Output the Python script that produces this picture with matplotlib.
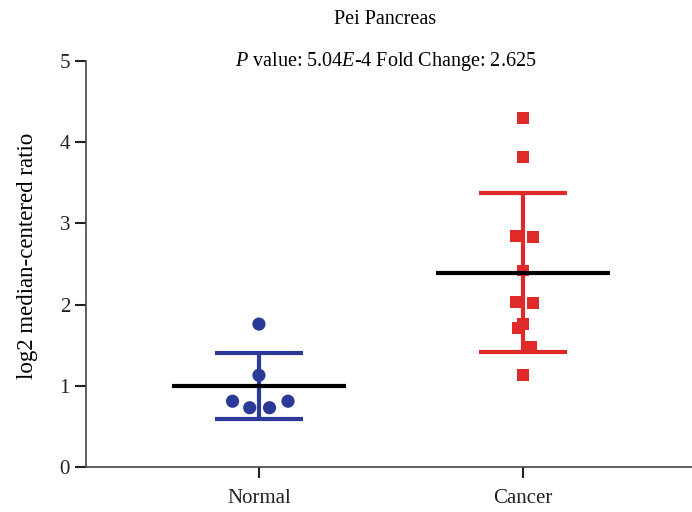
import numpy as np
import matplotlib.pyplot as plt

plt.rcParams['font.family'] = ['Liberation Serif', 'DejaVu Serif']
plt.rcParams['mathtext.fontset'] = 'custom'
plt.rcParams['mathtext.rm'] = 'Liberation Serif'
plt.rcParams['mathtext.it'] = 'Liberation Serif:italic'

groups = ["Normal", "Cancer"]
normal_vals = [1.76, 1.13, 0.81, 0.73, 0.73, 0.81]
normal_jitter = [0.0, 0.0, -0.10, -0.035, 0.04, 0.11]
cancer_vals = [4.30, 3.82, 2.84, 2.83, 2.42, 2.03, 2.02, 1.76, 1.71, 1.48, 1.13]
cancer_jitter = [0.0, 0.0, -0.027, 0.038, 0.0, -0.027, 0.038, 0.0, -0.02, 0.03, 0.0]

blue = "#2b3a98"
red = "#e02a2a"

fig = plt.figure(figsize=(6.92, 5.12), dpi=100)
ax = fig.add_axes([86 / 692, 45 / 512, 1 - 86 / 692, 406 / 512])

for i, (vals, jit, col, mk, ms) in enumerate([
        (normal_vals, normal_jitter, blue, "o", 9.5),
        (cancer_vals, cancer_jitter, red, "s", 8.5)]):
    vals = np.array(vals)
    m = vals.mean()
    sd = vals.std(ddof=1)
    # SD bar with caps
    ax.errorbar(i, m, yerr=sd, color=col, lw=3, capsize=0, zorder=2)
    ax.hlines([m - sd, m + sd], i - 0.165, i + 0.165, color=col, lw=3, zorder=2)
    ax.scatter(i + np.array(jit), vals, marker=mk, s=ms ** 2, color=col,
               edgecolors="none", zorder=3)
    # mean line
    ax.hlines(m, i - 0.33, i + 0.33, color="black", lw=3, zorder=4)

ax.set_xlim(-0.655, 1.64)
ax.set_ylim(0, 5)
ax.set_xticks([0, 1])
ax.set_xticklabels(groups)
ax.set_yticks(range(6))
ax.tick_params(axis="both", labelsize=15, length=8, width=1.5, colors="#222222")
ax.tick_params(axis="x", pad=8)
for s in ["top", "right"]:
    ax.spines[s].set_visible(False)
for s in ["left", "bottom"]:
    ax.spines[s].set_color("#444444")
    ax.spines[s].set_linewidth(1.2)

ax.set_ylabel("log2 median-centered ratio", fontsize=16.5)
ax.yaxis.set_label_coords(-0.080, 0.52)

fig.text(0.557, 0.962, "Pei Pancreas", ha="center", va="center", fontsize=14.5)
fig.text(0.557, 0.879, r"$P$ value: 5.04$E$-4 Fold Change: 2.625", ha="center",
         va="center", fontsize=14.5)

fig.savefig("out.png", dpi=100)
